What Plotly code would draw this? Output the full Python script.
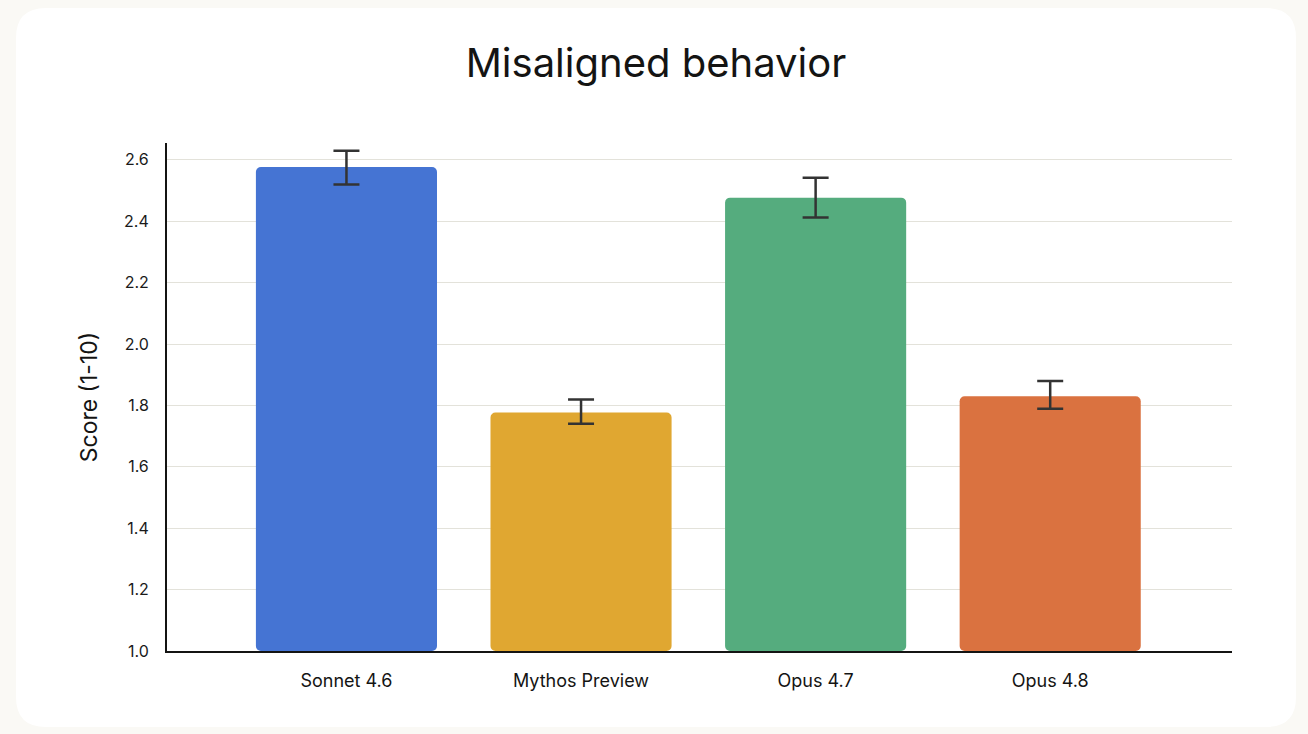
import plotly.graph_objects as go

models = ["Sonnet 4.6", "Mythos Preview", "Opus 4.7", "Opus 4.8"]
scores = [2.577, 1.777, 2.477, 1.830]
err_plus = [0.053, 0.042, 0.065, 0.050]
err_minus = [0.057, 0.037, 0.065, 0.041]
colors = ["#4574D3", "#E0A731", "#55AC7E", "#DA7240"]
y_ticks = [1.0, 1.2, 1.4, 1.6, 1.8, 2.0, 2.2, 2.4, 2.6]

W, H = 1308, 734
L, R, T, B = 167, 76, 143, 83
PW, PH = W - L - R, H - T - B

def px(x):
    return (x - L) / PW

def py(y):
    return 1 - (y - T) / PH

# rounded card
x0, x1, y0, y1, r = 16, 1296, 8, 727, 30
pts = [
    ("M", (x0 + r, y0)), ("L", (x1 - r, y0)), ("Q", (x1, y0), (x1, y0 + r)),
    ("L", (x1, y1 - r)), ("Q", (x1, y1), (x1 - r, y1)), ("L", (x0 + r, y1)),
    ("Q", (x0, y1), (x0, y1 - r)), ("L", (x0, y0 + r)), ("Q", (x0, y0), (x0 + r, y0)),
]
path = ""
for seg in pts:
    cmd = seg[0]
    coords = " ".join(f"{px(a):.5f},{py(b):.5f}" for a, b in seg[1:])
    path += f"{cmd} {coords} "
path += "Z"

fig = go.Figure()
fig.add_trace(go.Bar(
    x=list(range(len(models))),
    y=[s - 1.0 for s in scores],
    base=1.0,
    marker=dict(color=colors, line=dict(width=0)),
    width=0.772,
    error_y=dict(type="data", array=err_plus, arrayminus=err_minus,
                 color="#333333", thickness=2.5, width=13, visible=True),
    hoverinfo="skip",
))

fig.update_layout(
    width=W, height=H,
    margin=dict(l=L, r=R, t=T, b=B),
    paper_bgcolor="#FAF9F5",
    plot_bgcolor="rgba(0,0,0,0)",
    font=dict(family="Inter, Open Sans, sans-serif", color="#1a1a1a"),
    title=dict(text="Misaligned behavior", x=656 / W, xref="container", xanchor="center",
               y=1 - 63 / H, yanchor="middle", yref="container",
               font=dict(size=40, color="#141413", weight=400)),
    showlegend=False,
    barcornerradius=5,
    shapes=[dict(type="path", path=path, xref="paper", yref="paper",
                 fillcolor="#FFFFFF", line=dict(width=0), layer="below")],
)
fig.update_xaxes(
    range=[-0.765, 3.775], tickvals=list(range(len(models))), ticktext=models,
    showgrid=False, showline=True, linecolor="#141413", linewidth=2,
    tickfont=dict(size=18, color="#141413"), ticks="", ticklabelstandoff=12,
    zeroline=False,
)
fig.update_yaxes(
    range=[1.0, 2.655], tickvals=y_ticks, ticktext=[f"{v:.1f}" for v in y_ticks],
    showgrid=True, gridcolor="#E3E2DA", gridwidth=1,
    showline=True, linecolor="#141413", linewidth=2,
    tickfont=dict(size=16, color="#1a1a1a"), ticks="", ticklabelstandoff=13,
    zeroline=False,
    title=dict(text="Score (1-10)", font=dict(size=23, color="#141413"), standoff=20),
)

fig.write_html("out.html")
